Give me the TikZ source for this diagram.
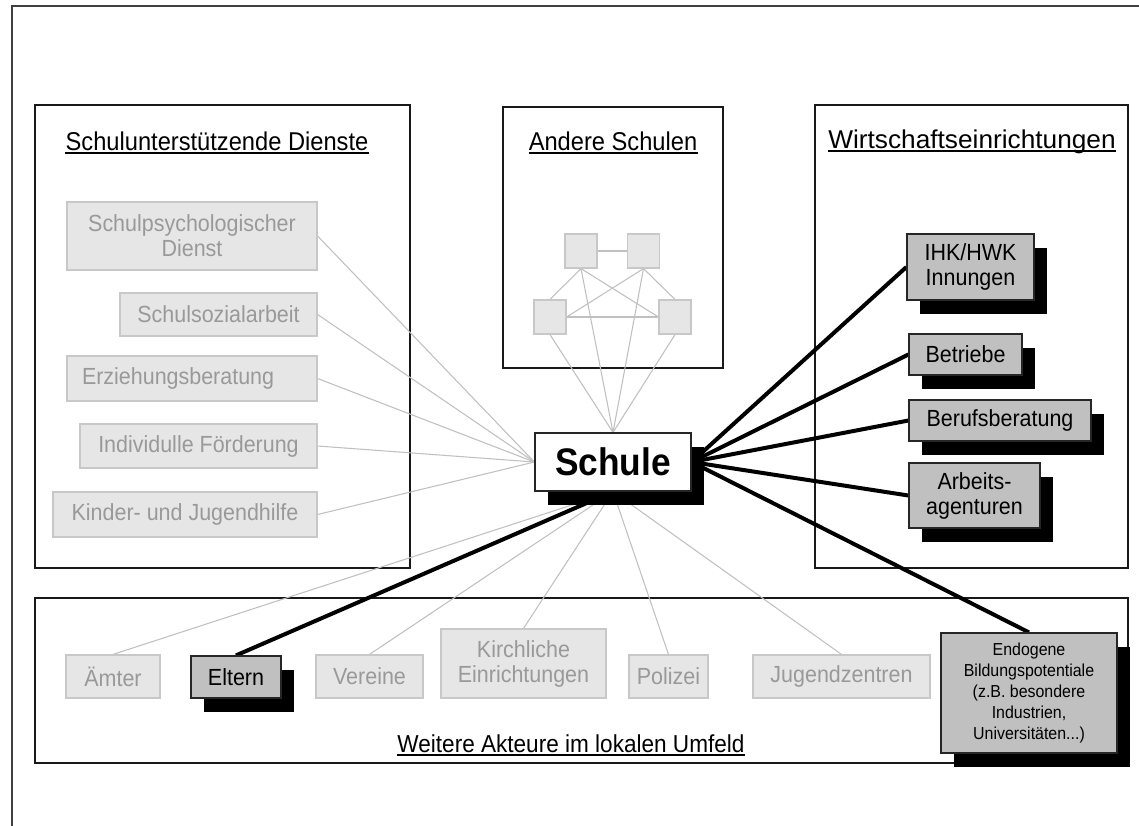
\documentclass[tikz,border=0pt]{standalone}
\usepackage{fontspec}
\setmainfont{Liberation Sans}[FakeStretch=0.92]
\newfontfamily\widefont{Liberation Sans}[FakeStretch=1.02]
\usetikzlibrary{shadows}
\pgfdeclarelayer{background}
\pgfsetlayers{background,main}

\definecolor{paleFill}{HTML}{E6E6E6}
\definecolor{paleLine}{HTML}{C8C8C8}
\definecolor{paleText}{HTML}{999999}
\definecolor{midFill}{HTML}{C0C0C0}
\definecolor{linkGray}{HTML}{C0C0C0}

\tikzset{
  softbox/.style={draw=paleLine, fill=paleFill, line width=0.9pt, text=paleText,
    inner sep=0pt, align=center, font=\fontsize{17.5}{18.75}\selectfont},
  keybox/.style={draw=black!85, fill=midFill, line width=0.9pt, text=black,
    inner sep=0pt, align=center, font=\fontsize{17.5}{18.75}\selectfont,
    drop shadow={fill=black, opacity=1, shadow xshift=9.75pt, shadow yshift=-10.5pt}},
  schulebox/.style={draw=black!85, fill=white, line width=0.9pt, inner sep=0pt,
    minimum width=117pt, minimum height=43.5pt,
    font=\fontsize{28.8}{31}\selectfont\bfseries,
    drop shadow={fill=black, opacity=1, shadow xshift=9.75pt, shadow yshift=-10.5pt}},
  container/.style={draw=black!90, line width=1pt},
  heading/.style={anchor=base, inner sep=0pt, font=\fontsize{19.3}{22}\selectfont},
  underline/.style={draw=black, line width=0.9pt},
  thinlink/.style={draw=linkGray, line width=0.8pt},
  thicklink/.style={draw=black, line width=3pt},
  square/.style={draw=paleLine, fill=paleFill, line width=0.9pt,
    minimum width=24pt, minimum height=25.5pt, inner sep=0pt},
}

\begin{document}
\begin{tikzpicture}[x=0.75pt, y=-0.75pt]
\useasboundingbox (0,0) rectangle (1139,825);

% outer frame (runs past the page on the right and at the bottom)
\draw[line width=1.5pt, black!75] (12,845) -- (12,6) -- (1150,6);

% headings, each with its underline
\node[heading] (hLeft) at (217,150) {Schulunterstützende Dienste};
\node[heading] (hMid) at (613,150) {Andere Schulen};
\node[heading, font=\fontsize{19.3}{22}\selectfont\widefont] (hRight) at (972,148) {Wirtschaftseinrichtungen};
\node[heading, font=\fontsize{18.4}{22}\selectfont] (hBottom) at (571,752) {Weitere Akteure im lokalen Umfeld};
\foreach \h in {hLeft,hMid,hRight,hBottom}
  \draw[underline] ([yshift=-2.2pt]\h.base west) -- ([yshift=-2.2pt]\h.base east);

% school support services
\node[softbox, minimum width=187.5pt, minimum height=51pt] (psych) at (192,236) {Schulpsychologischer\\Dienst};
\node[softbox, minimum width=147.75pt, minimum height=32.25pt] (sozial) at (218.5,314.5) {Schulsozialarbeit};
\node[softbox, minimum width=187.5pt, minimum height=33.75pt, text width=165pt, inner xsep=11.25pt, align=left] (erz) at (192,378.5) {Erziehungsberatung};
\node[softbox, minimum width=177.75pt, minimum height=33pt] (indiv) at (198.5,446) {Individulle Förderung};
\node[softbox, minimum width=198pt, minimum height=33.75pt] (kinder) at (185,514.5) {Kinder- und Jugendhilfe};

% other schools network
\node[square] (sqTL) at (581,251) {};
\node[square] (sqTR) at (643.5,251) {};
\node[square] (sqBL) at (550,317) {};
\node[square] (sqBR) at (675,317) {};

% central node
\node[schulebox] (schule) at (613,462) {Schule};

% economic institutions
\node[keybox, minimum width=95.25pt, minimum height=49.5pt] (ihk) at (970.5,267) {IHK/HWK\\Innungen};
\node[keybox, minimum width=84.75pt, minimum height=30.75pt] (betr) at (965.5,354.5) {Betriebe};
\node[keybox, minimum width=136.5pt, minimum height=30.75pt] (beruf) at (1000,420.5) {Berufsberatung};
\node[keybox, minimum width=98.25pt, minimum height=48.75pt] (arb) at (974.5,495.5) {Arbeits-\\agenturen};
\node[keybox, minimum width=132pt, minimum height=90pt, font=\fontsize{13}{15.75}\selectfont] (endo) at (1029,693)
  {Endogene\\Bildungspotentiale\\(z.B. besondere\\Industrien,\\Universitäten...)};

% local actors
\node[softbox, minimum width=70.5pt, minimum height=32.25pt] (aemter) at (113,676.5) {Ämter};
\node[keybox, minimum width=67.5pt, minimum height=31.5pt] (eltern) at (236,677) {Eltern};
\node[softbox, minimum width=80.25pt, minimum height=32.25pt] (vereine) at (369.5,676.5) {Vereine};
\node[softbox, minimum width=123.75pt, minimum height=51.75pt] (kirch) at (523.5,663.5) {Kirchliche\\Einrichtungen};
\node[softbox, minimum width=59.25pt, minimum height=32.25pt] (polizei) at (668.5,676.5) {Polizei};
\node[softbox, minimum width=132.75pt, minimum height=32.25pt] (jugend) at (841.5,676.5) {Jugendzentren};

\begin{pgfonlayer}{background}
  % group frames
  \draw[container] (35,105) rectangle (410,568);
  \draw[container] (503,107) rectangle (723,368);
  \draw[container] (815,105) rectangle (1128,568);
  \draw[container] (35,598) rectangle (1128,763);

  % support services to school
  \foreach \n in {psych,sozial,erz,indiv,kinder}
    \draw[thinlink] (\n.east) -- (schule.west);

  % network among other schools
  \draw[thinlink] (sqTL.east) -- (sqTR.west);
  \draw[thinlink] (sqTL.south) -- (sqBL.north);
  \draw[thinlink] (sqTL.south) -- (sqBR.west);
  \draw[thinlink] (sqTR.south) -- (sqBL.east);
  \draw[thinlink] (sqTR.south) -- (sqBR.north);
  \draw[thinlink] (sqBL.east) -- (sqBR.west);
  \foreach \n in {sqBL,sqTL,sqTR,sqBR}
    \draw[thinlink] (\n.south) -- (schule.north);

  % economic institutions
  \foreach \n in {ihk,betr,beruf,arb}
    \draw[thicklink] (schule.east) -- (\n.west);
  \draw[thicklink] (schule.east) -- (endo.north);

  % local actors
  \foreach \n in {aemter,vereine,kirch,polizei,jugend}
    \draw[thinlink] (schule.south) -- (\n.north);
  \draw[thicklink] (schule.south) -- (eltern.north);
\end{pgfonlayer}
\end{tikzpicture}
\end{document}
